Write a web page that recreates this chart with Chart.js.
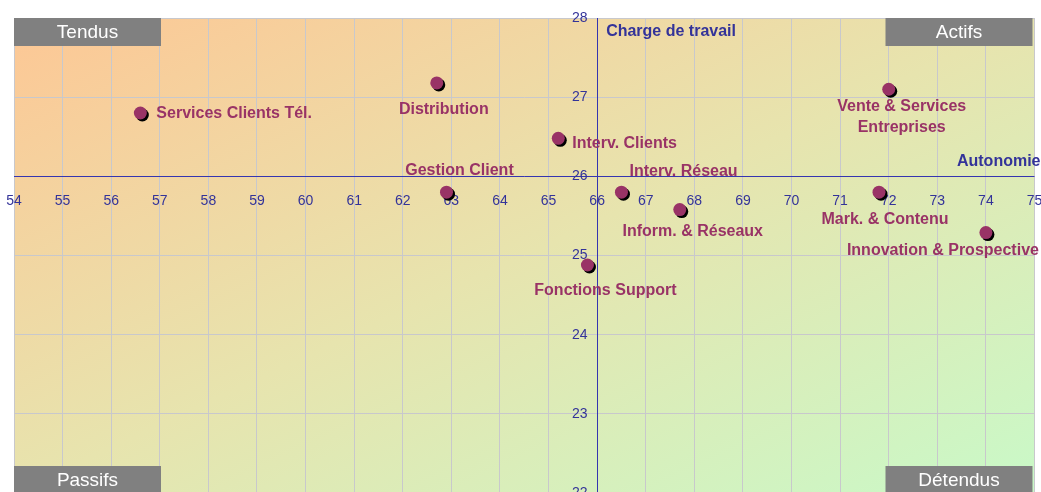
<!DOCTYPE html>
<html>
<head>
<meta charset="utf-8">
<script src="https://cdn.jsdelivr.net/npm/chart.js@4"></script>
<style>
  html, body { margin: 0; padding: 0; background: #fff; overflow: hidden; }
  #wrap { position: absolute; left: 0; top: 0; width: 1041px; height: 500px; }
</style>
</head>
<body>
<div id="wrap"><canvas id="quadChart"></canvas></div>
<script>
// Data
const services = ['Services Clients Tél.', 'Distribution', 'Interv. Clients', 'Gestion Client', 'Interv. Réseau',
  'Inform. & Réseaux', 'Fonctions Support', ['Vente & Services', 'Entreprises'], 'Mark. & Contenu', 'Innovation & Prospective'];
const autonomie = [56.6, 62.7, 65.2, 62.9, 66.5, 67.7, 65.8, 72.0, 71.8, 74.0];
const charge = [26.8, 27.18, 26.48, 25.8, 25.8, 25.58, 24.88, 27.1, 25.8, 25.29];
const quadrants = ['Tendus', 'Actifs', 'Passifs', 'Détendus'];
const xRange = [54, 75];
const yRange = [22, 28];
const crossAt = { x: 66, y: 26 };

// label placement around each point: [align, dx, dy]
const labelPlace = [
  ['left', 16, 1], ['center', 7, 27], ['left', 14, 5], ['center', 13, -22], ['left', 8, -21],
  ['center', 13, 22], ['center', 18, 26], ['center', 13, 17], ['center', 6, 27], ['center', -43, 18]
];

const navy = '#333399';
const plum = '#993366';
const fontFamily = '"Liberation Sans", Arial, sans-serif';

const decorPlugin = {
  id: 'decor',
  beforeDraw(chart) {
    const { ctx, chartArea: a } = chart;
    const w = a.right - a.left, h = a.bottom - a.top;
    const t = 2 * w * h / (w * w + h * h);
    const g = ctx.createLinearGradient(a.left, a.top, a.left + h * t, a.top + w * t);
    g.addColorStop(0, '#fdc795');
    g.addColorStop(0.5, '#e7e4ae');
    g.addColorStop(1, '#c9f9c8');
    ctx.save();
    ctx.fillStyle = g;
    ctx.fillRect(a.left, a.top, w, h);
    ctx.restore();
  },
  beforeDatasetsDraw(chart) {
    const { ctx, chartArea: a } = chart;
    const xs = chart.scales.x, ys = chart.scales.y;
    const cx = Math.round(xs.getPixelForValue(crossAt.x)) + 0.5;
    const cy = Math.round(ys.getPixelForValue(crossAt.y)) + 0.5;

    // crossing axes
    ctx.save();
    ctx.strokeStyle = '#3535b0';
    ctx.lineWidth = 1;
    ctx.beginPath();
    ctx.moveTo(a.left, cy); ctx.lineTo(a.right, cy);
    ctx.moveTo(cx, a.top); ctx.lineTo(cx, a.bottom);
    ctx.stroke();

    // y tick labels, left of the vertical axis
    ctx.font = '14px ' + fontFamily;
    ctx.fillStyle = navy;
    ctx.textAlign = 'right';
    ctx.textBaseline = 'middle';
    ys.ticks.forEach(tk => ctx.fillText(String(tk.value), cx - 10, ys.getPixelForValue(tk.value)));
    ctx.restore();

    // shadow under the points
    ctx.save();
    ctx.shadowColor = '#000';
    ctx.shadowOffsetX = 2;
    ctx.shadowOffsetY = 2;
    ctx.shadowBlur = 0;
  },
  afterDatasetsDraw(chart) {
    const { ctx, chartArea: a } = chart;
    ctx.restore();

    // point labels
    const meta = chart.getDatasetMeta(0);
    ctx.save();
    ctx.font = 'bold 16px ' + fontFamily;
    ctx.fillStyle = plum;
    ctx.textBaseline = 'middle';
    meta.data.forEach((pt, i) => {
      const [align, dx, dy] = labelPlace[i];
      ctx.textAlign = align;
      const lines = Array.isArray(services[i]) ? services[i] : [services[i]];
      lines.forEach((line, k) => ctx.fillText(line, pt.x + dx, pt.y + dy + k * 21));
    });

    // axis titles
    const xs = chart.scales.x, ys = chart.scales.y;
    ctx.fillStyle = navy;
    ctx.textAlign = 'left';
    ctx.fillText('Charge de travail', xs.getPixelForValue(crossAt.x) + 9, a.top + 14);
    ctx.textAlign = 'right';
    ctx.fillText('Autonomie', a.right + 6, ys.getPixelForValue(crossAt.y) - 15);

    // quadrant boxes
    const bw = 147, bh = 28;
    const boxes = [
      [a.left, a.top], [a.right - bw - 2, a.top],
      [a.left, a.bottom - bh + 1], [a.right - bw - 2, a.bottom - bh + 1]
    ];
    ctx.font = '19px ' + fontFamily;
    ctx.textAlign = 'center';
    boxes.forEach(([bx, by], i) => {
      ctx.fillStyle = '#808080';
      ctx.fillRect(bx, by, bw, bh);
      ctx.fillStyle = '#fff';
      ctx.fillText(quadrants[i], bx + bw / 2, by + bh / 2 + 1);
    });
    ctx.restore();
  }
};

new Chart(document.getElementById('quadChart'), {
  type: 'scatter',
  data: {
    datasets: [{
      data: autonomie.map((x, i) => ({ x, y: charge[i] })),
      backgroundColor: plum,
      borderColor: plum,
      pointRadius: 6.5,
      pointHoverRadius: 6.5,
      borderWidth: 0
    }]
  },
  options: {
    responsive: true,
    maintainAspectRatio: false,
    animation: false,
    layout: { padding: { left: 14, top: 18, right: 5, bottom: 7 } },
    plugins: { legend: { display: false }, tooltip: { enabled: false } },
    scales: {
      x: {
        type: 'linear',
        min: xRange[0],
        max: xRange[1],
        position: { y: crossAt.y },
        afterFit: s => { s.height = 0; s.paddingLeft = 0; s.paddingRight = 0; },
        grid: { color: '#c8c8cc', drawTicks: false },
        border: { display: false },
        ticks: { stepSize: 1, color: navy, padding: 16, font: { family: fontFamily, size: 14 } }
      },
      y: {
        type: 'linear',
        min: yRange[0],
        max: yRange[1],
        position: { x: crossAt.x },
        afterFit: s => { s.width = 0; s.paddingTop = 0; s.paddingBottom = 0; },
        grid: { color: '#c8c8cc', drawTicks: false },
        border: { display: false },
        ticks: { display: false, stepSize: 1 }
      }
    }
  },
  plugins: [decorPlugin]
});
</script>
</body>
</html>
